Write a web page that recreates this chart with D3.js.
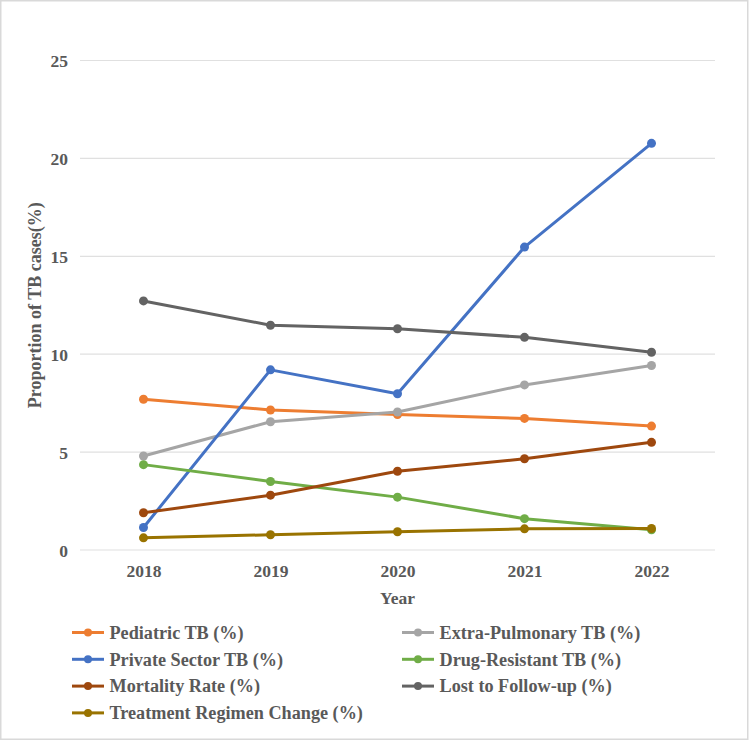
<!DOCTYPE html>
<html>
<head>
<meta charset="utf-8">
<script src="https://cdn.jsdelivr.net/npm/d3@7"></script>
<style>
  html, body { margin: 0; padding: 0; background: #fff; }
  svg { display: block; }
</style>
</head>
<body>
<svg id="chart" width="750" height="741"></svg>
<script>
// ---- data ----
const years = ["2018", "2019", "2020", "2021", "2022"];
const yTicks = [0, 5, 10, 15, 20, 25];
const seriesNames = [
  "Pediatric TB (%)",
  "Extra-Pulmonary TB (%)",
  "Private Sector TB (%)",
  "Drug-Resistant TB (%)",
  "Mortality Rate (%)",
  "Lost to Follow-up (%)",
  "Treatment Regimen Change (%)"
];
const pediatric      = [7.7, 7.15, 6.92, 6.72, 6.33];
const extraPulmonary = [4.8, 6.55, 7.05, 8.43, 9.42];
const privateSector  = [1.15, 9.2, 7.98, 15.47, 20.77];
const drugResistant  = [4.36, 3.5, 2.7, 1.6, 1.03];
const mortality      = [1.9, 2.8, 4.02, 4.66, 5.5];
const lostFollowUp   = [12.72, 11.48, 11.3, 10.86, 10.1];
const regimenChange  = [0.62, 0.78, 0.93, 1.08, 1.1];
const seriesValues = [pediatric, extraPulmonary, privateSector, drugResistant, mortality, lostFollowUp, regimenChange];
const colors = ["#ED7D31", "#A5A5A5", "#4472C4", "#70AD47", "#9E480E", "#636363", "#997300"];

// ---- layout ----
const svg = d3.select("#chart");
const W = 750, H = 741;
const plotLeft = 80, plotRight = 715, plotTop = 60.5, plotBottom = 550;
const font = "'Liberation Serif', 'Times New Roman', serif";
const textColor = "#595959";

svg.append("rect").attr("x", 0.75).attr("y", 0.75).attr("width", W - 3).attr("height", H - 2.5)
  .attr("fill", "#fff").attr("stroke", "#d9d9d9").attr("stroke-width", 1.5);

const x = d3.scalePoint().domain(years).range([plotLeft, plotRight]).padding(0.5);
const y = d3.scaleLinear().domain([0, 25]).range([plotBottom, plotTop]);

// gridlines
svg.append("g").selectAll("line").data(yTicks).join("line")
  .attr("x1", plotLeft).attr("x2", plotRight)
  .attr("y1", d => y(d)).attr("y2", d => y(d))
  .attr("stroke", "#e0e0e0").attr("stroke-width", 1.2);

// y axis labels
const yAxis = svg.append("g").attr("transform", `translate(${plotLeft - 12},0)`)
  .call(d3.axisLeft(y).tickValues(yTicks).tickSize(0).tickPadding(0));
yAxis.select(".domain").remove();
yAxis.selectAll("text").attr("font-family", font).attr("font-size", 17.5)
  .attr("font-weight", "bold").attr("fill", textColor).attr("dy", "0.35em");

// x axis labels
const xAxis = svg.append("g").attr("transform", `translate(0,${plotBottom + 10})`)
  .call(d3.axisBottom(x).tickSize(0).tickPadding(0));
xAxis.select(".domain").remove();
xAxis.selectAll("text").attr("font-family", font).attr("font-size", 17.5)
  .attr("font-weight", "bold").attr("fill", textColor).attr("dy", "0.95em");

// axis titles
svg.append("text").attr("x", (plotLeft + plotRight) / 2).attr("y", 604)
  .attr("text-anchor", "middle").attr("font-family", font).attr("font-size", 17.5)
  .attr("font-weight", "bold").attr("fill", textColor).text("Year");
svg.append("text").attr("transform", `translate(41,${(plotTop + plotBottom) / 2}) rotate(-90)`)
  .attr("text-anchor", "middle").attr("font-family", font).attr("font-size", 18)
  .attr("font-weight", "bold").attr("fill", textColor).text("Proportion of TB cases(%)");

// series
const line = d3.line().x((d, i) => x(years[i])).y(d => y(d));
seriesValues.forEach((vals, si) => {
  const g = svg.append("g");
  g.append("path").attr("d", line(vals)).attr("fill", "none")
    .attr("stroke", colors[si]).attr("stroke-width", 3).attr("stroke-linejoin", "round");
  g.selectAll("circle").data(vals).join("circle")
    .attr("cx", (d, i) => x(years[i])).attr("cy", d => y(d)).attr("r", 4.5)
    .attr("fill", colors[si]);
});

// legend
const legX = [72, 402], legY0 = 632.5, legDy = 26.8;
seriesNames.forEach((name, i) => {
  const col = i % 2, row = Math.floor(i / 2);
  const lx = legX[col], ly = legY0 + row * legDy;
  const g = svg.append("g");
  g.append("line").attr("x1", lx).attr("x2", lx + 32).attr("y1", ly).attr("y2", ly)
    .attr("stroke", colors[i]).attr("stroke-width", 3);
  g.append("circle").attr("cx", lx + 16).attr("cy", ly).attr("r", 4).attr("fill", colors[i]);
  g.append("text").attr("x", lx + 37.5).attr("y", ly).attr("dy", "0.35em")
    .attr("font-family", font).attr("font-size", 18.2).attr("font-weight", "bold")
    .attr("fill", textColor).text(name);
});
</script>
</body>
</html>
